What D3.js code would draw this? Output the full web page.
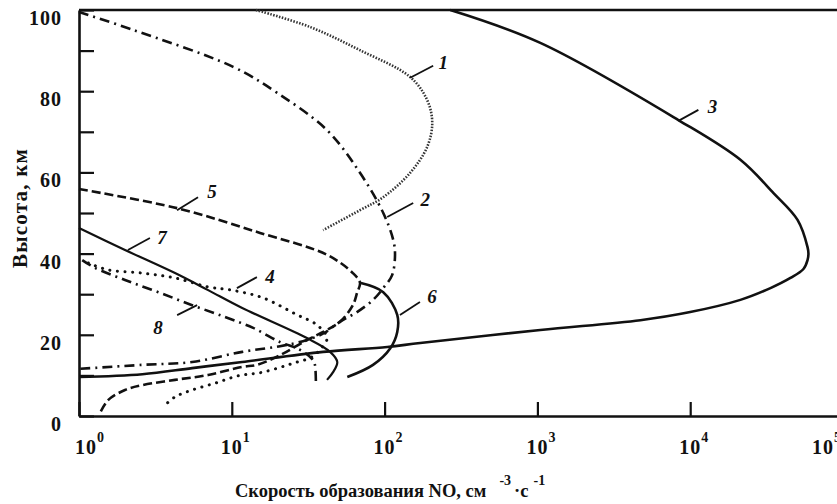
<!DOCTYPE html>
<html>
<head>
<meta charset="utf-8">
<script src="https://cdn.jsdelivr.net/npm/d3@7"></script>
<style>
	body { margin: 0; background: #fff; }
	svg text { font-family: "Liberation Serif", "Times New Roman", serif; fill: #111; }
</style>
</head>
<body>
<svg id="chart" width="837" height="504"></svg>
<script>

// curves: [rate NO (cm^-3 s^-1), altitude (km)]
var curve1 = [[14.4,100],[32.6,95.8],[69,90.1],[147,83.5],[190,77.8],[205,72.2],[190,66.3],[147,59.9],[98,53.9],[69,50.7],[39.6,45.8]];
var curve2 = [[1.0,99.5],[2.26,95.1],[10.2,86],[19.8,79.6],[42,70.4],[69,59.9],[98,50],[114,43.3],[117,39.7],[112,34.7],[98,31.5],[84,28.6],[66,25.6],[51,23.2],[40,20.4],[31,18.7],[20.7,17.2],[11.7,15.8],[5.5,13.3],[2.6,12.6],[1.0,11.6]];
var curve3 = [[269,100],[1045,91.9],[8370,72.9],[21300,63.1],[35100,54.9],[50400,48.3],[58600,41.6],[59400,40],[58600,38.4],[55100,36.2],[45300,34],[33500,31.5],[21300,28.6],[10000,25.6],[4720,23.6],[1045,21.2],[171,18],[104,17],[39.6,15.8],[11.7,13.3],[5.5,11.8],[2.6,10.3],[1.0,9.6]];
var curve4 = [[1.15,37.7],[1.55,36],[2.59,35.2],[4.25,34],[7,31.8],[10,31],[16,29.1],[26.8,24.9],[36.2,22.4],[42,19.2],[37.8,16.3],[32.6,14.3],[26.8,13.3],[16,10.8],[11,9.9],[7.8,8.1],[5.5,6.4],[4.25,4.7],[3.55,2.2]];
var curve5 = [[1.0,55.9],[4.38,51.2],[15.3,45.1],[42,39.7],[62,35.2],[69,32.8],[66,30.3],[62,27.3],[51,23.2],[39.6,20.7],[31,18.7],[20.7,15],[14.6,12.6],[11.7,12.1],[7,10.1],[4.25,8.9],[2.6,7.6],[2.0,6.4],[1.55,3.9],[1.37,0.7]];
var curve6 = [[69,32.8],[98,30.5],[121,24.9],[121,20.7],[109,16.7],[84,12.6],[57,9.6]];
var curve7 = [[1.0,46.3],[2.0,40.9],[4.25,35.2],[7,31],[11.7,26.6],[31,19.2],[44,15.8],[49,13.3],[46,10.8],[42,8.9]];
var curve8 = [[1.05,38.4],[1.27,36.5],[2.0,33.5],[3.3,30.5],[5.5,27.3],[9,24.4],[13.8,21.7],[20.7,18.2],[28,16.3],[34,13.8],[35,12.6],[35.5,8.4]];

var curveNames = ["1","2","3","4","5","6","7","8"];
// point on each curve where its number label is attached
var labelAnchors = [[147,83.3],[104,49.0],[8370,72.7],[10.8,31.5],[4.38,50.7],[126,24.9],[2.09,40.9],[5.93,27.3]];

var xTicks = [1,10,100,1000,10000,100000];
var xTickPowers = ["0","1","2","3","4","5"];
var yTicks = [0,10,20,30,40,50,60,70,80,90,100];
var yTickLabels = [0,20,40,60,80,100];


var svg = d3.select("#chart");

var x = d3.scaleLog().domain([1, 1e5]).range([79, 843]);
var y = d3.scaleLinear().domain([0, 100]).range([416, 10]);

var styles = {
	"1": { width: 2.6, dash: "1.5,1.5", color: "#333", cap: "butt" },
	"2": { width: 2.6, dash: "10,5,2,5", color: "#111", cap: "butt" },
	"3": { width: 2.6, dash: null, color: "#111", cap: "butt" },
	"4": { width: 3, dash: "0.1,7.5", color: "#111", cap: "round" },
	"5": { width: 2.6, dash: "9,4", color: "#111", cap: "butt" },
	"6": { width: 2.6, dash: null, color: "#111", cap: "butt" },
	"7": { width: 2.2, dash: null, color: "#111", cap: "butt" },
	"8": { width: 2.6, dash: "10,5,2,5", color: "#111", cap: "butt" }
};

var labelOffsets = {
	"1": { lx: 23, ly: -12, tx: 33, ty: -15 },
	"2": { lx: 26, ly: -14, tx: 38, ty: -17 },
	"3": { lx: 20, ly: -11, tx: 34, ty: -14 },
	"4": { lx: 20, ly: -11, tx: 33, ty: -11 },
	"5": { lx: 21, ly: -13, tx: 35, ty: -18 },
	"6": { lx: 20, ly: -13, tx: 32, ty: -18 },
	"7": { lx: 22, ly: -12, tx: 34, ty: -12 },
	"8": { lx: -20, ly: 10, tx: -39, ty: 23 }
};


function drawAxes()
{
	var frame = svg.append("g").attr("class", "frame");

	// top border
	frame.append("line")
		.attr("x1", x(1)).attr("x2", x(1e5))
		.attr("y1", y(100)).attr("y2", y(100))
		.attr("stroke", "#111").attr("stroke-width", 2.6);

	var xAxis = d3.axisBottom(x)
		.tickValues(xTicks)
		.tickSizeInner(-14)
		.tickSizeOuter(0)
		.tickFormat("");

	svg.append("g")
		.attr("transform", "translate(0," + y(0) + ")")
		.call(xAxis);

	var yAxis = d3.axisLeft(y)
		.tickValues(yTicks)
		.tickSizeInner(-15)
		.tickSizeOuter(0)
		.tickFormat("");

	svg.append("g")
		.attr("transform", "translate(" + x(1) + ",0)")
		.call(yAxis);

	svg.selectAll(".domain").attr("stroke", "#111").attr("stroke-width", 2.6);
	svg.selectAll(".tick line").attr("stroke", "#111").attr("stroke-width", 2.2);

	svg.append("g").selectAll("text")
		.data(yTickLabels)
		.enter()
		.append("text")
		.attr("x", 62)
		.attr("y", function(d)
		{
			return y(d) + 15;
		})
		.attr("text-anchor", "end")
		.attr("font-size", 20)
		.attr("font-weight", "bold")
		.attr("letter-spacing", 1)
		.text(function(d)
		{
			return d;
		});

	// the first label is pushed right of the corner, the last one left of the edge
	var xl = svg.append("g").selectAll("text")
		.data(xTicks)
		.enter()
		.append("text")
		.attr("x", function(d, i)
		{
			var shift = -11;
			if(i == 0) shift = -4;
			if(i == xTicks.length - 1) shift = -31;
			return x(d) + shift;
		})
		.attr("y", 454)
		.attr("font-size", 20)
		.attr("font-weight", "bold")
		.attr("letter-spacing", 1);

	xl.append("tspan").text("10");
	xl.append("tspan")
		.attr("dy", -12)
		.attr("font-size", 14)
		.text(function(d, i)
		{
			return xTickPowers[i];
		});

	// axis titles
	var xt = svg.append("text")
		.attr("x", 235)
		.attr("y", 497)
		.attr("font-size", 18.5)
		.attr("font-weight", "bold");
	xt.append("tspan").text("Скорость образования NO, см");
	xt.append("tspan").attr("dx", 13).attr("dy", -12).attr("font-size", 14).text("-3");
	xt.append("tspan").attr("dx", 3).attr("dy", 12).text("·с");
	xt.append("tspan").attr("dx", 5).attr("dy", -12).attr("font-size", 14).text("-1");

	svg.append("text")
		.attr("transform", "translate(27,208) rotate(-90)")
		.attr("text-anchor", "middle")
		.attr("font-size", 21)
		.attr("font-weight", "bold")
		.attr("letter-spacing", 1.2)
		.text("Высота, км");
}

function drawCurves()
{
	var line = d3.line()
		.x(function(d)
		{
			return x(d[0]);
		})
		.y(function(d)
		{
			return y(d[1]);
		})
		.curve(d3.curveCatmullRom.alpha(0.5));

	var curves = [curve1, curve2, curve3, curve4, curve5, curve6, curve7, curve8];

	svg.append("g").selectAll("path")
		.data(curves)
		.enter()
		.append("path")
		.attr("d", line)
		.attr("fill", "none")
		.attr("stroke", function(d, i)
		{
			return styles[curveNames[i]].color;
		})
		.attr("stroke-width", function(d, i)
		{
			return styles[curveNames[i]].width;
		})
		.attr("stroke-dasharray", function(d, i)
		{
			return styles[curveNames[i]].dash;
		})
		.attr("stroke-linecap", function(d, i)
		{
			return styles[curveNames[i]].cap;
		});
}

function drawLabels()
{
	var g = svg.append("g").attr("class", "labels");

	var items = g.selectAll("g")
		.data(labelAnchors)
		.enter()
		.append("g")
		.attr("transform", function(d)
		{
			return "translate(" + x(d[0]) + "," + y(d[1]) + ")";
		});

	items.append("line")
		.attr("x1", 0).attr("y1", 0)
		.attr("x2", function(d, i)
		{
			return labelOffsets[curveNames[i]].lx;
		})
		.attr("y2", function(d, i)
		{
			return labelOffsets[curveNames[i]].ly;
		})
		.attr("stroke", "#111")
		.attr("stroke-width", 1.8);

	items.append("text")
		.attr("x", function(d, i)
		{
			return labelOffsets[curveNames[i]].tx;
		})
		.attr("y", function(d, i)
		{
			return labelOffsets[curveNames[i]].ty + 6;
		})
		.attr("text-anchor", "middle")
		.attr("font-size", 19)
		.attr("font-style", "italic")
		.attr("font-weight", "bold")
		.text(function(d, i)
		{
			return curveNames[i];
		});
}

drawAxes();
drawCurves();
drawLabels();

</script>
</body>
</html>
